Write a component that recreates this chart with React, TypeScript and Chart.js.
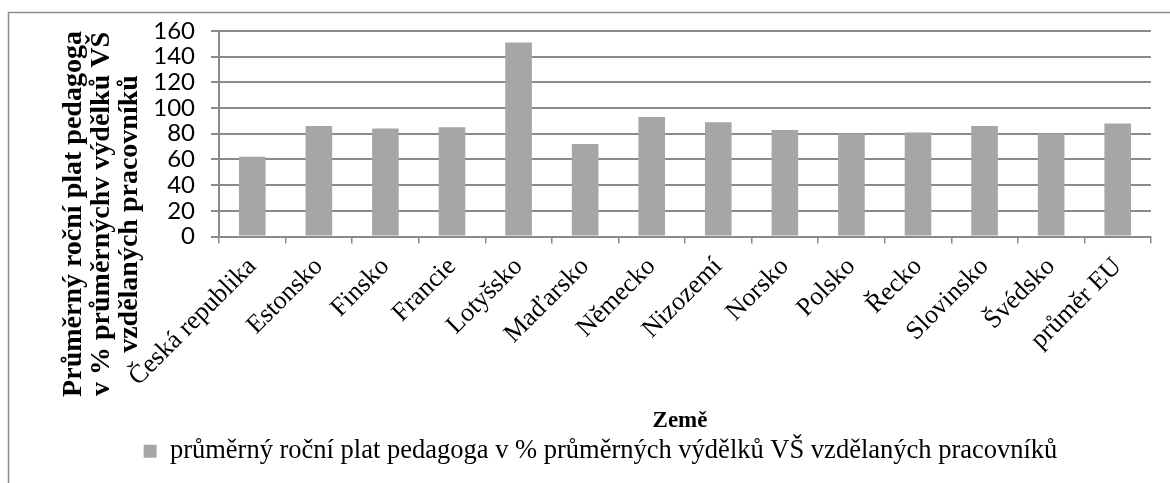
import React, { useEffect, useRef } from "react";
import { Chart, registerables } from "chart.js";

Chart.register(...registerables);

const categories = [
  "Česká republika",
  "Estonsko",
  "Finsko",
  "Francie",
  "Lotyšsko",
  "Maďarsko",
  "Německo",
  "Nizozemí",
  "Norsko",
  "Polsko",
  "Řecko",
  "Slovinsko",
  "Švédsko",
  "průměr EU",
];
const values = [62, 86, 84, 85, 151, 72, 93, 89, 83, 80, 81, 86, 80, 88];
const seriesLabel =
  "průměrný roční plat pedagoga v % průměrných výdělků VŠ vzdělaných pracovníků";
const yTitleLines = [
  "Průměrný roční plat pedagoga",
  "v % průměrnýchv výdělků VŠ",
  "vzdělaných pracovníků",
];
const xTitle = "Země";
const yMin = 0;
const yMax = 160;
const yStep = 20;

const GRID = "#8a8a8a";
const BAR = "#a6a6a6";
const SERIF = "'Liberation Serif', 'Times New Roman', serif";

const decor = {
  id: "decor",
  beforeDraw(chart: any) {
    const ctx = chart.ctx;
    ctx.save();
    ctx.strokeStyle = "#8c8c8c";
    ctx.lineWidth = 1.5;
    ctx.strokeRect(8.5, 12.5, 1200, 500);
    ctx.restore();
  },
  afterDraw(chart: any) {
    const ctx = chart.ctx;
    ctx.save();
    ctx.fillStyle = "#000";
    ctx.font = `bold 28px ${SERIF}`;
    ctx.textAlign = "center";
    ctx.textBaseline = "alphabetic";
    const xs = [81, 109, 137];
    yTitleLines.forEach((line, i) => {
      ctx.save();
      ctx.translate(xs[i], 214);
      ctx.rotate(-Math.PI / 2);
      ctx.fillText(line, 0, 0);
      ctx.restore();
    });
    ctx.font = `bold 23px ${SERIF}`;
    ctx.fillText(xTitle, 680, 427);
    ctx.restore();
  },
};

export default function App() {
  const ref = useRef<HTMLCanvasElement | null>(null);
  useEffect(() => {
    if (!ref.current) return;
    const chart = new Chart(ref.current, {
      type: "bar",
      data: {
        labels: categories,
        datasets: [
          {
            label: seriesLabel,
            data: values,
            backgroundColor: BAR,
            borderWidth: 0,
            barPercentage: 0.4,
            categoryPercentage: 1,
          },
        ],
      },
      options: {
        animation: false,
        responsive: false,
        devicePixelRatio: 1,
        layout: { padding: { left: 50, right: 19, top: 31, bottom: 8.5 } },
        plugins: {
          tooltip: { enabled: false },
          title: { display: false },
          legend: {
            display: true,
            position: "bottom",
            labels: {
              boxWidth: 13,
              boxHeight: 13,
              padding: 10,
              color: "#000",
              font: { family: SERIF, size: 26.5 },
            },
          },
        },
        scales: {
          x: {
            offset: true,
            grid: {
              display: true,
              drawOnChartArea: false,
              drawTicks: true,
              tickLength: 7,
              color: GRID,
              lineWidth: 1.5,
              offset: true,
            },
            border: { display: true, color: GRID, width: 2 },
            ticks: {
              autoSkip: false,
              minRotation: 45,
              maxRotation: 45,
              color: "#000",
              padding: 8,
              font: { family: SERIF, size: 26 },
            },
            afterFit(scale: any) {
              scale.height = 191.5;
            },
          },
          y: {
            min: yMin,
            max: yMax,
            grid: {
              color: GRID,
              lineWidth: 2,
              tickLength: 8,
            },
            border: { display: true, color: GRID, width: 2 },
            ticks: {
              stepSize: yStep,
              autoSkip: false,
              color: "#000",
              padding: 16,
              font: { family: "Lato, 'Open Sans', sans-serif", size: 24 },
            },
            afterFit(scale: any) {
              scale.width = 169;
            },
          },
        },
      },
      plugins: [decor],
    });
    return () => chart.destroy();
  }, []);
  return (
    <div style={{ position: "absolute", left: 0, top: 0, width: 1170, height: 483 }}>
      <canvas ref={ref} width={1170} height={483} />
    </div>
  );
}
